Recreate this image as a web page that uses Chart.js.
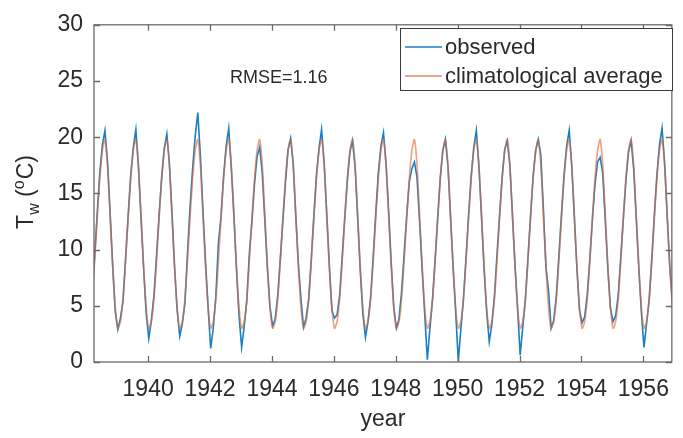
<!DOCTYPE html>
<html>
<head>
<meta charset="utf-8">
<script src="https://cdn.jsdelivr.net/npm/chart.js@4.4.1/dist/chart.umd.min.js"></script>
<style>
  html, body { margin: 0; padding: 0; background: #ffffff; }
  #wrap { width: 683px; height: 438px; }
</style>
</head>
<body>
<div id="wrap"><canvas id="c" width="683" height="438"></canvas></div>
<script>
// ---- data ----
const startYear = 1938;
const startMonth = 2; // March (0 = January)
const xTicks = [1940, 1942, 1944, 1946, 1948, 1950, 1952, 1954, 1956];
const yTicks = [0, 5, 10, 15, 20, 25, 30];
const rmseLabel = "RMSE=1.16";
const seriesNames = ["observed", "climatological average"];

// monthly climatological average water temperature (Jan..Dec), °C
const climatology = [3.0, 3.6, 5.6, 9.0, 12.8, 16.3, 18.8, 19.8, 17.5, 13.0, 8.5, 4.8];

// observed monthly water temperature, °C, from March 1938 to December 1956
const observed = [
  5.8, 9.3, 13.2, 16.8, 19.3, 20.6, 17.8, 13.3, 8.6, 4.5,                 // 1938 (Mar-Dec)
  2.9, 3.9, 5.4, 9.2, 13.0, 16.6, 19.1, 20.7, 17.3, 12.8, 8.3, 4.3,       // 1939
  2.1, 3.7, 5.9, 9.4, 13.1, 16.4, 19.0, 20.3, 17.6, 13.2, 8.4, 4.6,       // 1940
  2.3, 3.4, 5.2, 9.6, 13.8, 17.2, 20.1, 22.2, 18.4, 13.5, 8.9, 4.9,       // 1941
  1.2, 3.0, 5.8, 10.6, 12.9, 16.5, 19.2, 20.8, 17.2, 13.1, 8.2, 4.1,      // 1942
  1.3, 3.2, 5.4, 9.7, 12.5, 15.9, 18.3, 19.1, 16.8, 12.6, 8.3, 4.9,       // 1943
  3.2, 3.8, 5.9, 9.2, 12.6, 16.0, 18.9, 19.9, 17.6, 13.0, 8.7, 5.6,       // 1944
  3.1, 3.9, 5.6, 9.1, 13.0, 16.6, 19.0, 20.7, 17.7, 13.2, 8.6, 4.6,       // 1945
  3.9, 4.2, 5.9, 9.4, 12.9, 16.2, 18.7, 19.7, 17.3, 12.8, 8.1, 4.3,       // 1946
  2.2, 3.6, 5.7, 9.3, 13.2, 16.8, 19.2, 20.4, 17.6, 13.4, 8.8, 4.8,       // 1947
  3.0, 3.8, 6.2, 9.6, 13.0, 16.0, 17.2, 17.8, 16.4, 12.5, 8.2, 4.2,       // 1948
  0.2, 3.0, 5.5, 9.0, 12.7, 16.3, 18.8, 19.8, 17.4, 12.9, 8.4, 4.4,       // 1949
  0.1, 2.9, 5.6, 9.3, 13.1, 16.5, 19.1, 20.6, 17.4, 13.0, 8.3, 4.5,       // 1950
  1.8, 3.3, 5.8, 9.5, 13.0, 16.4, 18.9, 19.7, 17.5, 13.1, 8.6, 4.7,       // 1951
  0.6, 3.1, 5.5, 9.2, 12.9, 16.5, 18.8, 19.8, 18.4, 13.6, 8.4, 6.3,       // 1952
  3.0, 3.7, 5.8, 9.4, 13.1, 16.6, 19.2, 20.6, 17.4, 12.9, 8.3, 4.6,       // 1953
  3.5, 4.0, 6.0, 9.1, 12.7, 15.8, 17.8, 18.2, 16.8, 12.6, 8.2, 4.8,       // 1954
  3.6, 4.1, 5.9, 9.3, 12.8, 16.2, 18.7, 19.7, 17.2, 12.8, 8.3, 4.4,       // 1955
  1.3, 3.4, 5.5, 9.0, 13.0, 16.6, 19.3, 20.8, 17.7, 13.0, 8.5, 5.5        // 1956
];

// ---- build point lists (time in decimal years) ----
const monthTime = i => startYear + (startMonth + i) / 12 + 0.02;
const obsPoints = observed.map((v, i) => ({ x: monthTime(i), y: v }));
const climPoints = observed.map((_, i) => ({ x: monthTime(i), y: climatology[(startMonth + i) % 12] }));

const FONT = "'Liberation Sans', Arial, Helvetica, sans-serif";
const TXT = '#2b2b2b';
const AXIS = '#6a6a6a';
const BLUE = '#1a7fc4';
const ORANGE = 'rgba(222,110,60,0.62)';
const ORANGE_LEG = '#e08a5e';

const framePlugin = {
  id: 'frame',
  afterDraw(chart) {
    const { ctx, chartArea: a, scales: { x, y } } = chart;
    ctx.save();
    // box
    ctx.strokeStyle = AXIS;
    ctx.lineWidth = 1.3;
    ctx.strokeRect(a.left, a.top, a.right - a.left, a.bottom - a.top);
    // inward tick marks
    ctx.beginPath();
    x.ticks.forEach(t => {
      const px = Math.round(x.getPixelForValue(t.value)) + 0.5;
      ctx.moveTo(px, a.bottom); ctx.lineTo(px, a.bottom - 6);
      ctx.moveTo(px, a.top); ctx.lineTo(px, a.top + 6);
    });
    y.ticks.forEach(t => {
      const py = Math.round(y.getPixelForValue(t.value)) + 0.5;
      ctx.moveTo(a.left, py); ctx.lineTo(a.left + 6, py);
      ctx.moveTo(a.right, py); ctx.lineTo(a.right - 6, py);
    });
    ctx.stroke();

    // RMSE annotation
    ctx.fillStyle = TXT;
    ctx.font = `18px ${FONT}`;
    ctx.textBaseline = 'alphabetic';
    ctx.textAlign = 'left';
    ctx.fillText(rmseLabel, 230, 83);

    // legend
    const lx = 400, ly = 28, lw = 272, lh = 62;
    ctx.fillStyle = '#ffffff';
    ctx.fillRect(lx, ly, lw, lh);
    ctx.strokeStyle = '#3a3a3a';
    ctx.lineWidth = 1;
    ctx.strokeRect(lx + 0.5, ly + 0.5, lw, lh);
    const rows = [47, 76];
    const legColors = [BLUE, ORANGE_LEG];
    chart.data.datasets.forEach((ds, i) => {
      ctx.strokeStyle = legColors[i];
      ctx.lineWidth = 1.5;
      ctx.beginPath();
      ctx.moveTo(lx + 5, rows[i]); ctx.lineTo(lx + 42, rows[i]);
      ctx.stroke();
      ctx.fillStyle = TXT;
      ctx.font = `22px ${FONT}`;
      ctx.textBaseline = 'middle';
      ctx.fillText(ds.label, lx + 45, rows[i] + 1);
    });

    // x axis title
    ctx.fillStyle = TXT;
    ctx.font = `23px ${FONT}`;
    ctx.textAlign = 'center';
    ctx.textBaseline = 'alphabetic';
    ctx.fillText('year', (a.left + a.right) / 2, 426);

    // y axis title: T_w (°C)
    ctx.save();
    ctx.translate(33, 192);
    ctx.rotate(-Math.PI / 2);
    ctx.textAlign = 'left';
    ctx.textBaseline = 'alphabetic';
    const big = `23px ${FONT}`, small = `16px ${FONT}`;
    const parts = [
      { t: 'T', f: big, dy: 0 },
      { t: 'w', f: small, dy: 6 },
      { t: ' (', f: big, dy: 0 },
      { t: 'o', f: small, dy: -9, pad: 1 },
      { t: 'C)', f: big, dy: 0 }
    ];
    let total = 0;
    parts.forEach(p => { ctx.font = p.f; p.w = ctx.measureText(p.t).width + (p.pad || 0); total += p.w; });
    let cx = -total / 2;
    parts.forEach(p => { ctx.font = p.f; ctx.fillText(p.t, cx, p.dy); cx += p.w; });
    ctx.restore();

    ctx.restore();
  }
};

new Chart(document.getElementById('c'), {
  type: 'line',
  data: {
    datasets: [
      { label: seriesNames[0], data: obsPoints, borderColor: BLUE, borderWidth: 1.6,
        pointRadius: 0, tension: 0, fill: false, order: 2 },
      { label: seriesNames[1], data: climPoints, borderColor: ORANGE, borderWidth: 1.7,
        pointRadius: 0, tension: 0.25, fill: false, order: 1 }
    ]
  },
  options: {
    responsive: false,
    animation: false,
    events: [],
    layout: { padding: { left: 0, right: 1, top: 16, bottom: 0 } },
    plugins: { legend: { display: false }, tooltip: { enabled: false } },
    scales: {
      x: {
        type: 'linear',
        min: 1938.25,
        max: 1956.92,
        afterBuildTicks: s => { s.ticks = xTicks.map(v => ({ value: v })); },
        afterFit: s => { s.height = 76; },
        grid: { display: false, drawTicks: false },
        border: { display: false },
        ticks: { color: TXT, font: { family: FONT, size: 23 }, padding: 14,
                 maxRotation: 0, autoSkip: false, callback: v => String(v) }
      },
      y: {
        type: 'linear',
        min: 0,
        max: 30,
        afterBuildTicks: s => { s.ticks = yTicks.map(v => ({ value: v })); },
        afterFit: s => { s.width = 94; },
        grid: { display: false, drawTicks: false },
        border: { display: false },
        ticks: { color: TXT, font: { family: FONT, size: 23 }, padding: 11 }
      }
    }
  },
  plugins: [framePlugin]
});
</script>
</body>
</html>
